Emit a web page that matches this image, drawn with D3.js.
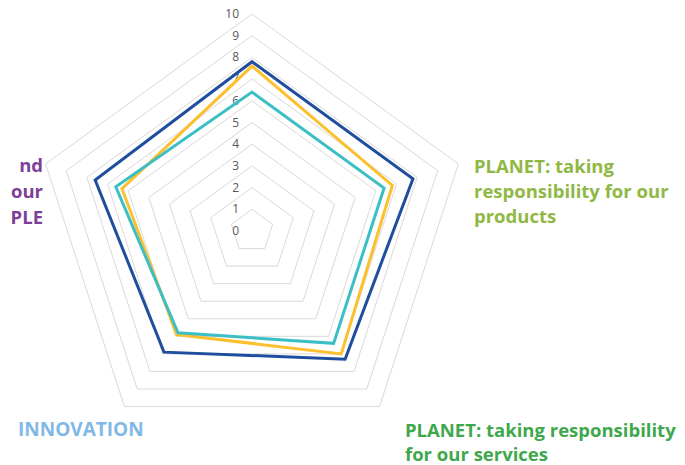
<!DOCTYPE html>
<html><head><meta charset="utf-8">
<script src="https://cdn.jsdelivr.net/npm/d3@7"></script>
<style>
html,body{margin:0;padding:0;background:#fff;}
svg{display:block;}
</style></head>
<body>
<script>
const axes = ["PEOPLE (top)", "PLANET: taking responsibility for our products", "PLANET: taking responsibility for our services", "INNOVATION", "PEOPLE"];
const ticks = [0,1,2,3,4,5,6,7,8,9,10];
const seriesBlue = [7.8, 7.8, 7.3, 6.9, 7.6];
const seriesYellow = [7.6, 6.8, 7.0, 5.9, 6.3];
const seriesTeal = [6.4, 6.4, 6.4, 5.8, 6.6];
const seriesColors = ["#1f4e9f", "#fcc02e", "#3bbfc4"];
const labelRight = ["PLANET: taking", "responsibility for our", "products"];
const labelBottomRight = ["PLANET: taking responsibility", "for our services"];
const labelBottomLeft = ["INNOVATION"];
const labelLeft = ["nd", "our", "PLE"];

const W = 685, H = 465;
const cx = 252, cy = 231, R = 217;
const svg = d3.select("body").append("svg").attr("width", W).attr("height", H);
const r = d3.scaleLinear().domain([0, 10]).range([0, R]);
const ang = d3.scaleLinear().domain([0, axes.length]).range([0, 2 * Math.PI]);
const pt = (i, v) => [cx + r(v) * Math.sin(ang(i)), cy - r(v) * Math.cos(ang(i))];

// grid rings
ticks.filter(t => t > 0).forEach(t => {
  svg.append("path")
    .attr("d", d3.line()(axes.map((a, i) => pt(i, t))) + "Z")
    .attr("fill", "none").attr("stroke", "#d9d9d9").attr("stroke-width", 1);
});

// tick labels
svg.selectAll("text.tick").data(ticks).join("text")
  .attr("class", "tick")
  .attr("x", cx - 13).attr("y", d => cy - r(d) + 4)
  .attr("text-anchor", "end")
  .attr("font-family", "Open Sans, sans-serif").attr("font-size", 12)
  .attr("fill", "#595959")
  .text(d => d);

// series
[seriesBlue, seriesYellow, seriesTeal].forEach((s, k) => {
  svg.append("path")
    .attr("d", d3.line()(s.map((v, i) => pt(i, v))) + "Z")
    .attr("fill", "none").attr("stroke", seriesColors[k])
    .attr("stroke-width", 3).attr("stroke-linejoin", "miter");
});

// category labels
function label(lines, x, y, anchor, color, lh, fs) {
  const t = svg.append("text").attr("x", x).attr("y", y)
    .attr("text-anchor", anchor)
    .attr("font-family", "Open Sans, sans-serif").attr("font-weight", 700)
    .attr("font-size", fs).attr("fill", color);
  lines.forEach((l, i) => t.append("tspan").attr("x", x).attr("dy", i ? lh : 0).text(l));
}
label(labelRight, 474, 173, "start", "#8fb844", 25, 18.5);
label(labelBottomRight, 405, 437, "start", "#3fa84c", 24, 18.5);
label(labelBottomLeft, 18, 436, "start", "#80b8e6", 22, 19);
label(labelLeft, 43, 172, "end", "#7d3f98", 26, 18.5);
</script>
</body></html>
